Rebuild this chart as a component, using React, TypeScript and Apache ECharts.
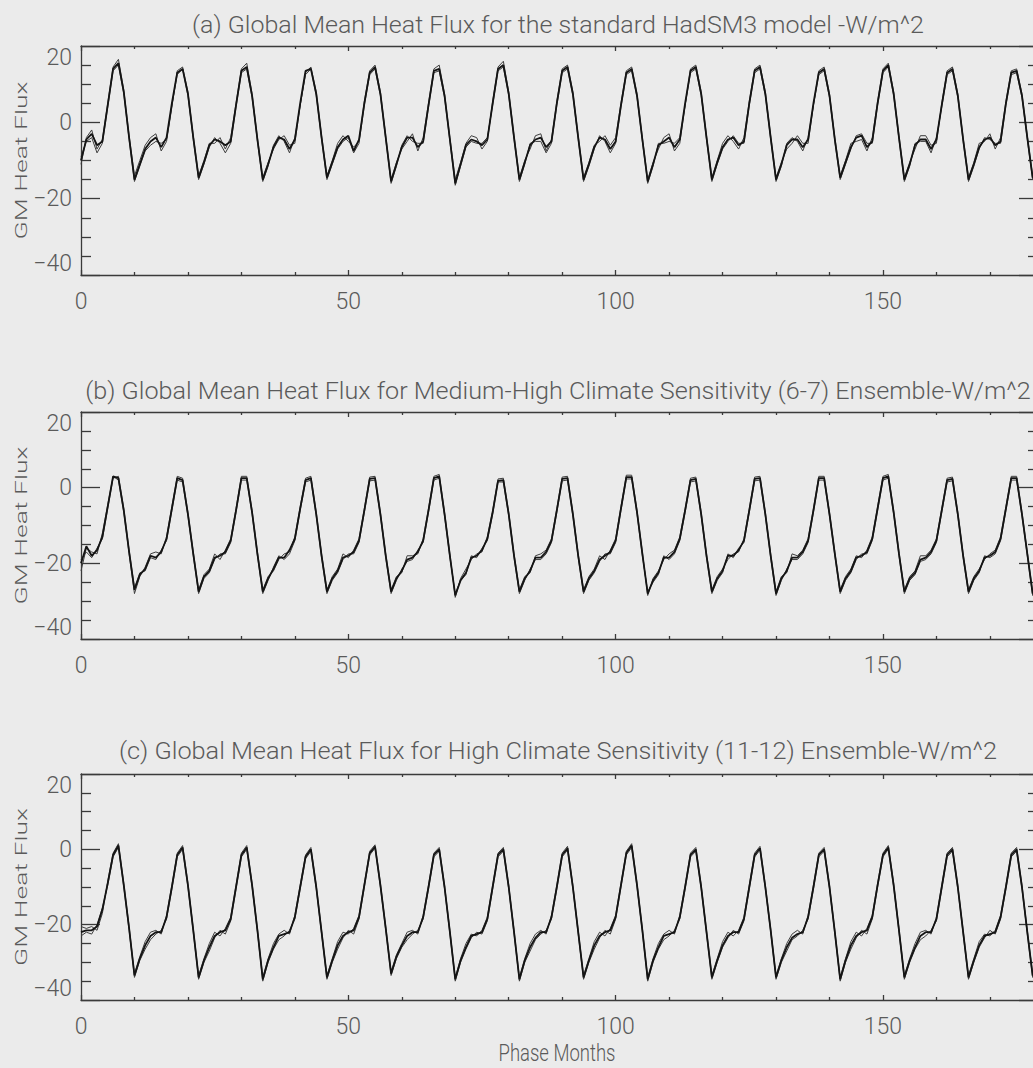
import React, { useEffect, useRef } from 'react';
import * as echarts from 'echarts';

// ---------- data (months 0..179) ----------
const A1 = [
  -10, -4.5, -3, -6, -5, 4.5, 14, 15.5, 8, -4, -15, -11,
  -7, -5, -4, -6.5, -4, 5, 13, 14, 7.5, -4, -14.5, -10.5,
  -6, -4.5, -5, -6, -5, 4.5, 13.5, 14.5, 7, -4.5, -15, -11,
  -6.5, -4, -4.5, -7, -4.5, 5, 13.5, 14, 7.5, -4, -14.5, -10.5,
  -6.5, -4.5, -3.5, -7.5, -4.5, 5, 13, 14.5, 7.5, -4, -15.5, -11,
  -6.5, -4, -4, -6.5, -5, 4.5, 13.5, 14, 7, -4.5, -16, -11,
  -6, -4.5, -5, -6, -4.5, 5, 14, 15, 7.5, -4, -15, -10.5,
  -6, -4.5, -4, -6.5, -5, 5, 13.5, 14.5, 7.5, -4, -15, -11,
  -6.5, -4, -4.5, -7, -5, 4.5, 13, 14, 7, -4.5, -15.5, -11,
  -6, -5, -4, -6.5, -4.5, 5, 13.5, 14.5, 7.5, -4, -15, -10.5,
  -6.5, -4.5, -4, -6, -5, 5, 13.5, 14.5, 7.5, -4, -15, -11,
  -6, -4.5, -4.5, -6.5, -4.5, 5, 13, 14, 7, -4.5, -14.5, -10.5,
  -6.5, -4, -3.5, -6.5, -5, 5, 13.5, 15, 7.5, -4, -15, -11,
  -6, -4.5, -4.5, -7, -4.5, 4.5, 13, 14, 7, -4.5, -15, -11,
  -6.5, -4.5, -4, -6, -5, 5, 13, 13.5, 7, -4, -14.5, -10.5,
];
const A2 = [
  -11, -4, -2, -7, -4.5, 5, 14.5, 16.5, 8.5, -3.5, -14, -10,
  -6, -4, -3, -7.5, -5, 4, 13.5, 14.5, 8, -3.5, -14, -10,
  -5.5, -5.5, -4, -7, -4, 5, 14, 15.5, 7.5, -4, -14.5, -10.5,
  -7, -4.5, -3.5, -6, -5.5, 4.5, 13, 14.5, 8, -3.5, -14, -10,
  -5.5, -3.5, -5, -6.5, -5, 5.5, 13.5, 15, 8, -3.5, -15, -10.5,
  -7, -5, -3, -7.5, -4, 5, 14, 15, 7.5, -4, -15, -10.5,
  -5.5, -3.5, -4, -7, -5, 5.5, 14.5, 16, 8, -3.5, -14.5, -10,
  -7, -3.5, -3, -7.5, -4.5, 5.5, 14, 15, 8, -3.5, -14.5, -10.5,
  -6, -5, -3.5, -6, -4, 5, 13.5, 14.5, 7.5, -4, -15, -10.5,
  -7, -4, -3, -7.5, -5.5, 4.5, 14, 15, 8, -3.5, -14.5, -10,
  -5.5, -3.5, -5, -7, -4, 5.5, 14, 15, 8, -3.5, -14.5, -10.5,
  -7, -5.5, -3.5, -5.5, -5.5, 4.5, 13.5, 14.5, 7.5, -4, -14, -10,
  -5.5, -5, -4.5, -7.5, -4, 5.5, 14, 15.5, 8, -3.5, -14.5, -10.5,
  -7, -3.5, -3.5, -6, -5.5, 5, 13.5, 14.5, 7.5, -4, -14.5, -10.5,
  -5.5, -5, -3, -7, -4, 5.5, 13.5, 14, 7.5, -3.5, -14, -10,
];
const A3 = [
  -9, -5, -4, -8, -5.5, 4, 13.5, 15, 7.5, -4.5, -15.5, -11.5,
  -7.5, -6, -5, -5.5, -4.5, 4.5, 12.5, 14, 7, -4.5, -15, -11,
  -6.5, -4, -5.5, -8, -5.5, 4, 13, 14, 6.5, -5, -15.5, -11.5,
  -6, -3.5, -5, -8, -4, 4.5, 12.5, 14, 7, -4.5, -15, -11,
  -7, -5, -4, -8, -5.5, 4.5, 12.5, 14, 7, -4.5, -16, -11.5,
  -6, -3.5, -5, -5.5, -5.5, 4, 13, 13.5, 6.5, -5, -16.5, -11.5,
  -6.5, -5, -5.5, -5.5, -4, 4.5, 13.5, 14.5, 7, -4.5, -15.5, -11,
  -5.5, -5, -5, -8, -5.5, 4.5, 13, 14, 7, -4.5, -15.5, -11.5,
  -7, -3.5, -5, -8, -5.5, 4, 12.5, 13.5, 6.5, -5, -16, -11.5,
  -5.5, -5.5, -5, -5.5, -4, 4.5, 13, 14, 7, -4.5, -15.5, -11,
  -7, -5, -3.5, -5.5, -5.5, 4.5, 13, 14, 7, -4.5, -15.5, -11.5,
  -5.5, -4, -5, -7.5, -4, 4.5, 12.5, 13.5, 6.5, -5, -15, -11,
  -7, -3.5, -3, -5.5, -5.5, 4.5, 13, 14.5, 7, -4.5, -15.5, -11.5,
  -5.5, -5, -5, -8, -4, 4, 12.5, 13.5, 6.5, -5, -15.5, -11.5,
  -7, -4, -4.5, -5.5, -5.5, 4.5, 12.5, 13, 6.5, -4.5, -15, -11,
];

const B1 = [
  -20, -15.5, -18, -16.5, -13, -5, 3, 2.5, -6, -17, -27, -23,
  -21.5, -18, -18.5, -17, -13.5, -5.5, 2.5, 2, -7, -17.5, -27.5, -23.5,
  -22, -18.5, -18, -17, -14, -6, 2.5, 2.5, -6.5, -17.5, -27.5, -24,
  -21.5, -18.5, -18.5, -16.5, -13.5, -5.5, 2, 2.5, -7, -18, -27.5, -24,
  -22, -18.5, -18, -17, -14, -6, 2.3, 2.5, -7, -18, -27.5, -24,
  -22, -19, -18.5, -17, -14, -6, 2.5, 3, -7, -18, -28.5, -24.5,
  -22.5, -18.5, -18, -16.5, -13.5, -6.5, 1.8, 2, -7, -18, -27.5, -24,
  -22, -18.5, -18.5, -17, -14, -6, 2.3, 2.5, -7, -18, -27.5, -24,
  -22, -19, -18, -17, -14, -5.5, 2.8, 2.8, -6.5, -17.5, -28, -24.5,
  -22.5, -18.5, -18.5, -17, -13.5, -6, 2, 2.3, -7, -18, -27.5, -24,
  -22, -18, -18, -16.5, -14, -6, 2.3, 2.5, -7, -18, -28, -24,
  -22, -18.5, -18.5, -17, -14, -6, 2.5, 2.5, -7, -17.5, -27.5, -24,
  -22, -18.5, -18, -17, -13.5, -5.5, 2.5, 3, -6.5, -17.5, -27.5, -24,
  -22.5, -19, -18.5, -17, -14, -6, 2, 2.3, -7, -18, -27.5, -24,
  -22, -18.5, -18, -17, -13.5, -5.5, 2.5, 2.5, -7, -17.5, -28, -24,
];
const B2 = [
  -22, -16, -17, -17.5, -12, -4.5, 3, 2, -6.5, -17.5, -28, -23.5,
  -21, -17.5, -17, -17.5, -13, -5, 3, 2.5, -6.5, -17, -27, -23,
  -21.5, -17.5, -19, -16.5, -13.5, -5.5, 3, 3, -6, -17, -27, -23.5,
  -22, -19, -17.5, -17, -13, -5, 2.5, 3, -6.5, -17.5, -27, -23.5,
  -21.5, -17.5, -18.5, -16.5, -13.5, -5.5, 2.8, 3, -6.5, -17.5, -27, -23.5,
  -22.5, -18, -18, -17.5, -13.5, -5.5, 3, 3.5, -6.5, -17.5, -29, -24,
  -21.5, -19, -17.5, -17, -13, -6, 2.3, 2.5, -6.5, -17.5, -27, -23.5,
  -22.5, -18, -17.5, -16.5, -13.5, -5.5, 2.8, 3, -6.5, -17.5, -27, -23.5,
  -21.5, -18, -19, -16.5, -13.5, -5, 3.3, 3.3, -6, -17, -28.5, -24,
  -22, -19, -17.5, -16.5, -13, -5.5, 2.5, 2.8, -6.5, -17.5, -27, -23.5,
  -21.5, -19, -17.5, -17, -13.5, -5.5, 2.8, 3, -6.5, -17.5, -27.5, -23.5,
  -22.5, -17.5, -18, -16.5, -13.5, -5.5, 3, 3, -6.5, -17, -27, -23.5,
  -21.5, -18, -18.5, -16.5, -13, -5, 3, 3.5, -6, -17, -27, -23.5,
  -22, -18, -18, -16.5, -13.5, -5.5, 2.5, 2.8, -6.5, -17.5, -27, -23.5,
  -21.5, -19, -17.5, -16.5, -13, -5, 3, 3, -6.5, -17, -27.5, -23.5,
];
const B3 = [
  -19, -17, -18.5, -16, -13.5, -5.5, 2.5, 3, -5.5, -16.5, -26.5, -22.5,
  -22, -18.5, -19, -16.5, -14, -6, 2, 1.5, -7.5, -18, -28, -24,
  -22.5, -19, -17.5, -17.5, -14.5, -6.5, 2, 2, -7, -18, -28, -24.5,
  -21, -18, -19, -17.5, -14, -6, 1.5, 2, -7.5, -18.5, -28, -24.5,
  -22.5, -19, -17.5, -17.5, -14.5, -6.5, 1.8, 2, -7.5, -18.5, -28, -24.5,
  -21.5, -19.5, -19, -16.5, -14.5, -6.5, 2, 2.5, -7.5, -18.5, -28, -24.5,
  -23, -18, -18.5, -16, -14, -7, 1.5, 1.5, -7.5, -18.5, -28, -24.5,
  -21.5, -19, -19, -17.5, -14.5, -6.5, 1.8, 2, -7.5, -18.5, -28, -24.5,
  -22.5, -19.5, -17.5, -17.5, -14.5, -6, 2.3, 2.3, -7, -18, -27.5, -25,
  -23, -18, -19, -17.5, -14, -6.5, 1.5, 1.8, -7.5, -18.5, -28, -24.5,
  -22.5, -17.5, -18.5, -16, -14.5, -6.5, 1.8, 2, -7.5, -18.5, -28.5, -24.5,
  -21.5, -19, -19, -17.5, -14.5, -6.5, 2, 2, -7.5, -18, -28, -24.5,
  -22.5, -19, -17.5, -17.5, -14, -6, 2, 2.5, -7, -18, -28, -24.5,
  -23, -19.5, -19, -17.5, -14.5, -6.5, 1.5, 1.8, -7.5, -18.5, -28, -24.5,
  -22.5, -18, -18.5, -17.5, -14, -6, 2, 2, -7.5, -18, -28.5, -24.5,
];

const C1 = [
  -22, -21.5, -21.5, -20.5, -16, -9, -1.5, 1, -9.5, -21, -33.5, -29,
  -25.5, -23, -22, -22, -18, -10, -1.5, 0.5, -9.5, -21.5, -34, -29.5,
  -26, -23, -22, -21.5, -18.5, -10, -1.5, 0.5, -9.5, -21.5, -34.5, -29.5,
  -26, -23, -22.5, -22, -18, -10, -2, 0, -10, -22, -34, -29.5,
  -25.5, -23, -22, -21.5, -18, -9.5, -1, 0.7, -9.5, -21, -33, -28.5,
  -25.5, -23, -22, -22, -18, -10, -1.5, 0, -10, -22, -34.5, -29.5,
  -26, -23, -22.5, -22, -18.5, -10, -1.5, 0, -10, -22, -34.5, -29.5,
  -26, -23.5, -22, -22, -18, -10, -1.5, 0.3, -10, -22, -34, -29.5,
  -25.5, -23, -22, -21.5, -18, -9.5, -1, 1, -9.5, -21.5, -34.5, -29.5,
  -26, -23, -22.5, -22, -18, -10, -1.5, 0, -10, -22, -34, -29.5,
  -25.5, -23, -22, -22, -18.5, -10, -1.5, 0.3, -10, -21.5, -34, -29.5,
  -26, -23.5, -22.5, -22, -18, -10, -1.5, 0, -10, -22, -34.5, -29.5,
  -25.5, -23, -22, -21.5, -18, -9.5, -1.5, 0.5, -9.5, -21.5, -34, -29.5,
  -26, -23, -22, -22, -18.5, -10, -1.5, 0, -10, -22, -34, -29.5,
  -25.5, -23, -22.5, -22, -18, -10, -1.5, 0, -10, -22, -33.5, -29.5,
];
const C2 = [
  -20.5, -21, -20.5, -21.5, -17, -8.5, -1, 1.5, -9, -20.5, -33, -28.5,
  -24.5, -22, -21.5, -22.5, -17.5, -9.5, -1, 1, -9, -21, -33.5, -29,
  -25, -22, -23, -21, -18, -9.5, -1, 1, -9, -21, -34, -29,
  -25, -22.5, -21.5, -22.5, -17.5, -9.5, -1.5, 0.5, -9.5, -21.5, -33.5, -29,
  -24.5, -22, -22.5, -21, -17.5, -9, -0.5, 1.2, -9, -20.5, -32.5, -28,
  -25, -22, -21.5, -22.5, -17.5, -9.5, -1, 0.5, -9.5, -21.5, -34, -29,
  -25, -22.5, -23, -21.5, -18, -9.5, -1, 0.5, -9.5, -21.5, -34, -29,
  -25, -22.5, -21.5, -22.5, -17.5, -9.5, -1, 0.8, -9.5, -21.5, -33.5, -29,
  -24.5, -22, -23, -21, -17.5, -9, -0.5, 1.5, -9, -21, -34, -29,
  -25, -22.5, -21.5, -22.5, -17.5, -9.5, -1, 0.5, -9.5, -21.5, -33.5, -29,
  -24.5, -22, -23, -21.5, -18, -9.5, -1, 0.8, -9.5, -21, -33.5, -29,
  -25, -22.5, -21.5, -22.5, -17.5, -9.5, -1, 0.5, -9.5, -21.5, -34, -29,
  -24.5, -22, -23, -21, -17.5, -9, -1, 1, -9, -21, -33.5, -29,
  -25, -22, -21.5, -22.5, -18, -9.5, -1, 0.5, -9.5, -21.5, -33.5, -29,
  -24.5, -22.5, -23, -21.5, -17.5, -9.5, -1, 0.5, -9.5, -21.5, -33, -29,
];
const C3 = [
  -23, -22, -22.5, -20, -15.5, -9.5, -2, 0.5, -10, -21.5, -34, -29.5,
  -26.5, -24, -22.5, -21.5, -18.5, -10.5, -2, 0, -10, -22, -34.5, -30,
  -27, -23.5, -21.5, -22.5, -19, -10.5, -2, 0, -10, -22, -35, -30,
  -26.5, -24, -23, -21.5, -18.5, -10.5, -2.5, -0.5, -10.5, -22.5, -34.5, -30,
  -26.5, -23.5, -21.5, -22.5, -18.5, -10, -1.5, 0.3, -10, -21.5, -33.5, -29,
  -26, -24, -22.5, -21.5, -18.5, -10.5, -2, -0.5, -10.5, -22.5, -35, -30,
  -26.5, -23.5, -22, -22.5, -19, -10.5, -2, -0.5, -10.5, -22.5, -35, -30,
  -27, -24, -22.5, -21.5, -18.5, -10.5, -2, -0.2, -10.5, -22.5, -34.5, -30,
  -26.5, -23.5, -21.5, -22.5, -18.5, -10, -1.5, 0.5, -10, -22, -35, -30,
  -26.5, -24, -23, -21.5, -18.5, -10.5, -2, -0.5, -10.5, -22.5, -34.5, -30,
  -26, -23.5, -21.5, -22.5, -19, -10.5, -2, -0.2, -10.5, -22, -34.5, -30,
  -27, -24, -23, -21.5, -18.5, -10.5, -2, -0.5, -10.5, -22.5, -35, -30,
  -26.5, -23.5, -21.5, -22.5, -18.5, -10, -2, 0, -10, -22, -34.5, -30,
  -26.5, -24, -23, -21.5, -19, -10.5, -2, -0.5, -10.5, -22.5, -34.5, -30,
  -26, -23.5, -21.5, -22.5, -18.5, -10.5, -2, -0.5, -10.5, -22.5, -34, -30,
];

const PANEL_TITLES = [
  '(a) Global Mean Heat Flux for the standard HadSM3 model -W/m^2',
  '(b) Global Mean Heat Flux for Medium-High Climate Sensitivity (6-7) Ensemble-W/m^2',
  '(c) Global Mean Heat Flux for High Climate Sensitivity (11-12) Ensemble-W/m^2',
];
const PANEL_SERIES = [
  [A1, A2, A3],
  [B1, B2, B3],
  [C1, C2, C3],
];
const Y_NAME = 'GM Heat Flux';
const X_NAME = 'Phase Months';
const X_MIN = 0;
const X_MAX = 179;
const X_INTERVAL = 50;
const Y_MIN = -40;
const Y_MAX = 20;
const Y_INTERVAL = 20;

// ---------- layout ----------
const GRID_LEFT = 81;
const GRID_WIDTH = 957;
const PANELS = [
  { top: 46, height: 229, titleY: 25, titleW: 732 },
  { top: 412, height: 227, titleY: 391, titleW: 946 },
  { top: 774, height: 226, titleY: 751, titleW: 879 },
];
const BG = '#ebebeb';
const AXIS_COLOR = '#3a3a3a';
const TEXT_COLOR = '#5a5a5a';
const FONT_FAMILY = 'Roboto';
const FONT_WEIGHT = 300;

function measure(text: string, font: string): number {
  const c = document.createElement('canvas').getContext('2d');
  if (!c) return 1;
  c.font = font;
  return c.measureText(text).width || 1;
}

export default function App() {
  const ref = useRef<HTMLDivElement>(null);

  useEffect(() => {
    if (!ref.current) return;
    const chart = echarts.init(ref.current, null, { renderer: 'svg' });

    const grids: any[] = [];
    const xAxes: any[] = [];
    const yAxes: any[] = [];
    const series: any[] = [];
    const graphics: any[] = [];

    const lineStyle = { color: AXIS_COLOR, width: 1.3 };
    const fmtY = (v: number) => (v < 0 ? '\u2212' + Math.abs(v) : String(v));
    const fontStr = (size: number) => `${FONT_WEIGHT} ${size}px ${FONT_FAMILY}`;

    const textEl = (text: string, x: number, y: number, size: number, width: number, rotation = 0) => ({
      type: 'text', x, y, rotation,
      scaleX: width / measure(text, fontStr(size)),
      style: {
        text, fontSize: size, fontFamily: FONT_FAMILY, fontWeight: FONT_WEIGHT,
        fill: TEXT_COLOR, align: 'center', verticalAlign: 'middle',
      },
    });

    PANELS.forEach((p, i) => {
      grids.push({ left: GRID_LEFT, top: p.top, width: GRID_WIDTH, height: p.height });
      const xBase = {
        type: 'value', gridIndex: i, min: X_MIN, max: X_MAX, interval: X_INTERVAL,
        axisLine: { show: true, onZero: false, lineStyle },
        axisTick: { show: true, inside: true, length: 5, lineStyle },
        minorTick: { show: true, splitNumber: 5, length: 3, lineStyle },
        splitLine: { show: false },
        minorSplitLine: { show: false },
      };
      xAxes.push({
        ...xBase, position: 'bottom',
        axisLabel: {
          show: true, margin: 15, showMaxLabel: false, color: TEXT_COLOR,
          fontFamily: FONT_FAMILY, fontWeight: FONT_WEIGHT, fontSize: 23,
        },
      });
      xAxes.push({ ...xBase, position: 'top', axisLabel: { show: false } });

      const yBase = {
        type: 'value', gridIndex: i, min: Y_MIN, max: Y_MAX, interval: Y_INTERVAL,
        axisLine: { show: true, onZero: false, lineStyle },
        axisTick: { show: true, inside: true, length: 19, lineStyle },
        minorTick: { show: true, splitNumber: 4, length: 10, lineStyle },
        splitLine: { show: false },
        minorSplitLine: { show: false },
      };
      yAxes.push({
        ...yBase, position: 'left',
        axisLabel: {
          show: true, margin: 9, color: TEXT_COLOR,
          fontFamily: FONT_FAMILY, fontWeight: FONT_WEIGHT, fontSize: 23,
          formatter: fmtY,
          verticalAlignMaxLabel: 'top', verticalAlignMinLabel: 'bottom',
        },
      });
      yAxes.push({ ...yBase, position: 'right', axisLabel: { show: false } });

      PANEL_SERIES[i].forEach((vals, j) => {
        series.push({
          type: 'line',
          xAxisIndex: 2 * i,
          yAxisIndex: 2 * i,
          data: vals.map((v, k) => [X_MIN + k, v]),
          showSymbol: false,
          symbol: 'none',
          silent: true,
          z: j === 0 ? 4 : 3,
          lineStyle: { color: j === 0 ? '#141414' : '#3d3d3d', width: j === 0 ? 1.8 : 1.0 },
        });
      });

      graphics.push(textEl(PANEL_TITLES[i], 558, p.titleY, 23, p.titleW));
      graphics.push(textEl(Y_NAME, 21, p.top + p.height / 2, 17, 158, Math.PI / 2));
    });

    graphics.push(textEl(X_NAME, 557, 1053, 23, 117));

    chart.setOption({
      animation: false,
      backgroundColor: BG,
      grid: grids,
      xAxis: xAxes,
      yAxis: yAxes,
      series,
      graphic: graphics,
    });

    return () => chart.dispose();
  }, []);

  return (
    <div
      style={{
        position: 'fixed', left: 0, top: 0, width: 1033, height: 1068,
        overflow: 'hidden', background: BG,
      }}
    >
      <div ref={ref} style={{ width: 1062, height: 1068 }} />
    </div>
  );
}
